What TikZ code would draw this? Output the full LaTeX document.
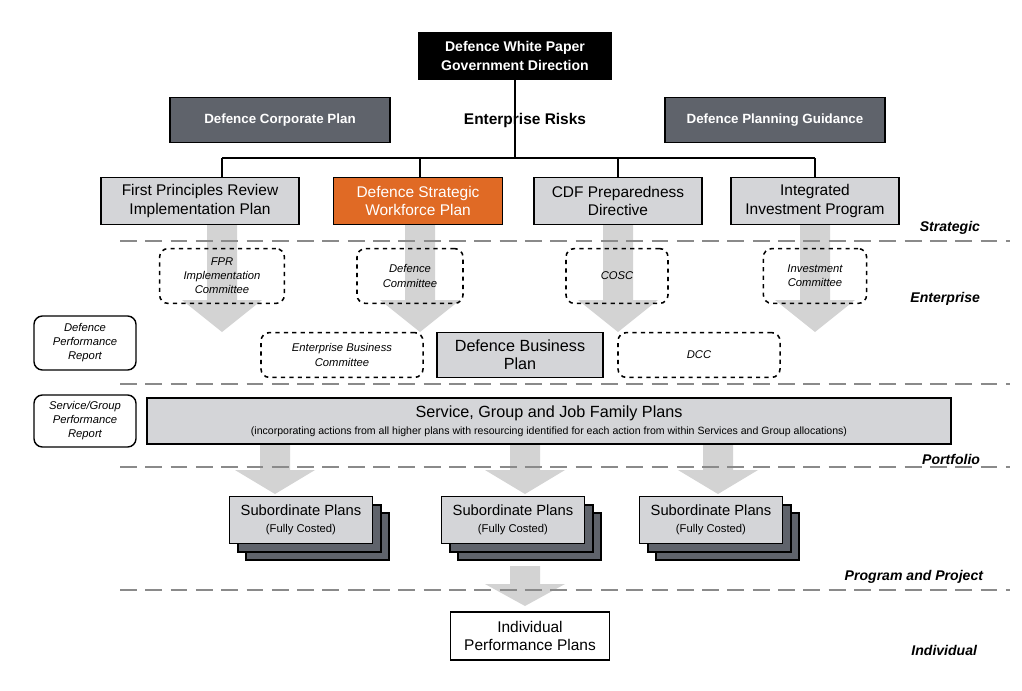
\documentclass[tikz,border=0pt]{standalone}
\usepackage{fontspec}
\setmainfont{Liberation Sans}
\usetikzlibrary{positioning}
\definecolor{plangray}{HTML}{D4D5D8}
\definecolor{darkplan}{HTML}{5F636B}
\definecolor{wforange}{HTML}{E06A25}
\definecolor{arrowgray}{HTML}{D3D3D3}
\definecolor{linegray}{HTML}{8A8A8A}
\tikzset{
  plan/.style={draw, line width=1.2pt, fill=plangray, inner sep=0pt, align=center, font=\fontsize{11}{13}\selectfont},
  topplan/.style={draw, line width=1pt, fill=darkplan, text=white, inner sep=0pt, align=center, font=\fontsize{9.5}{12}\selectfont\bfseries},
  cttee/.style={draw, dashed, line width=1.1pt, rounded corners=6pt, inner sep=0pt, align=center, font=\fontsize{8}{10}\selectfont\itshape},
  report/.style={draw, line width=1pt, rounded corners=6pt, inner sep=0pt, align=center, font=\fontsize{8}{10}\selectfont\itshape},
  level/.style={anchor=east, font=\fontsize{10}{12}\selectfont\bfseries\itshape},
  divider/.style={linegray, dashed, dash pattern=on 12pt off 6pt, line width=1.2pt}
}
\begin{document}
\begin{tikzpicture}[x=0.025cm, y=-0.025cm]
    \useasboundingbox (0,0) rectangle (1022,691);
    % Big arrows from strategic plans down through the committees
    \foreach \x in {222, 420, 618, 815} {
        \fill[arrowgray] (\x-15,225) -- (\x+15,225) -- (\x+15,300) -- (\x+40,300)
            -- (\x,332) -- (\x-40,300) -- (\x-15,300) -- cycle;
    }
    % Arrows from portfolio down to subordinate plans
    \foreach \x in {275, 525, 718} {
        \fill[arrowgray] (\x-15,444) -- (\x+15,444) -- (\x+15,470) -- (\x+40,470)
            -- (\x,494) -- (\x-40,470) -- (\x-15,470) -- cycle;
    }
    \fill[arrowgray] (510,566) -- (540,566) -- (540,584) -- (565,584)
        -- (525,606) -- (485,584) -- (510,584) -- cycle;

    % Dashed level dividers
    \foreach \y in {241, 384, 467, 590} {
        \draw[divider] (120,\y) -- (1010,\y);
    }

    % Direction and top level plans
    \node[fill=black, text=white, minimum width=194\pgflinewidth, inner sep=0pt, align=center,
          font=\fontsize{10}{13}\selectfont\bfseries, minimum width=4.85cm, minimum height=1.2cm]
          (direction) at (515,56) {Defence White Paper\\Government Direction};
    \node[topplan, minimum width=5.5cm, minimum height=1.12cm] (corp) at (280,120) {Defence Corporate Plan};
    \node[topplan, minimum width=5.5cm, minimum height=1.12cm] (guid) at (775,120) {Defence Planning Guidance};
    \node[font=\fontsize{11}{13}\selectfont\bfseries] (risks) at (525,120) {Enterprise Risks};

    % Strategic plans
    \node[plan, minimum width=4.95cm, minimum height=1.17cm] (fprplan) at (200,201) {First Principles Review\\Implementation Plan};
    \node[plan, fill=wforange, text=white, minimum width=4.22cm, minimum height=1.17cm] (wfplan) at (418,201) {Defence Strategic\\Workforce Plan};
    \node[plan, minimum width=4.2cm, minimum height=1.17cm] (cdfplan) at (618,201) {CDF Preparedness\\Directive};
    \node[plan, minimum width=4.2cm, minimum height=1.17cm] (iipplan) at (815,201) {Integrated\\Investment Program};

    % Tree from direction to strategic plans
    \coordinate (hub) at (515,158);
    \draw[line width=1pt] (direction.south) -- (hub);
    \draw[line width=1pt] (222,158) -- (815,158);
    \foreach \x in {222, 420, 618, 815} {
        \draw[line width=1pt] (\x,158) -- (\x,178);
    }

    % Committees
    \node[cttee, minimum width=3.12cm, minimum height=1.37cm] (fprc) at (222,276) {FPR\\Implementation\\Committee};
    \node[cttee, minimum width=2.65cm, minimum height=1.37cm] (defc) at (410,276) {Defence\\Committee};
    \node[cttee, minimum width=2.55cm, minimum height=1.37cm] (cosc) at (617,276) {COSC};
    \node[cttee, minimum width=2.58cm, minimum height=1.37cm] (invc) at (815,276) {Investment\\Committee};
    \node[cttee, minimum width=4.05cm, minimum height=1.12cm] (ebc) at (342,355) {Enterprise Business\\Committee};
    \node[cttee, minimum width=4.05cm, minimum height=1.12cm] (dcc) at (699,355) {DCC};
    \node[plan, minimum width=4.15cm, minimum height=1.12cm, font=\fontsize{11.5}{13}\selectfont] (dbp) at (520,355) {Defence Business\\Plan};

    % Reports
    \node[report, minimum width=2.55cm, minimum height=1.35cm] (dpr) at (85,343) {Defence\\Performance\\Report};
    \node[report, minimum width=2.55cm, minimum height=1.3cm] (sgpr) at (85,421) {Service/Group\\Performance\\Report};

    % Portfolio
    \node[plan, minimum width=20.1cm, minimum height=1.15cm, font=\fontsize{11.5}{13}\selectfont] (sgj) at (549,421)
        {Service, Group and Job Family Plans\\[-1pt]{\fontsize{7.5}{9}\selectfont (incorporating actions from all higher plans with resourcing identified for each action from within Services and Group allocations)}};

    % Subordinate plans
    \foreach \x/\name in {301/subA, 513/subB, 711/subC} {
        \fill[darkplan, draw=black, line width=1.2pt] (\x-71+16,497+16) rectangle ++(143,47);
        \fill[darkplan, draw=black, line width=1.2pt] (\x-71+8,497+8) rectangle ++(143,47);
        \node[plan, minimum width=3.57cm, minimum height=1.17cm, font=\fontsize{10.5}{12}\selectfont] (\name) at (\x,520)
            {Subordinate Plans\\{\fontsize{8}{10}\selectfont (Fully Costed)}};
    }

    % Individual
    \node[plan, fill=white, minimum width=3.97cm, minimum height=1.2cm, font=\fontsize{11}{13}\selectfont] (ipp) at (530,636) {Individual\\Performance Plans};

    % Level labels
    \node[level] (lstrat) at (985,228) {Strategic};
    \node[level] (lent) at (985,299) {Enterprise};
    \node[level] (lport) at (985,459) {Portfolio};
    \node[level] (lprog) at (988,577) {Program and Project};
    \node[level] (lind) at (982,650) {Individual};
\end{tikzpicture}
\end{document}
